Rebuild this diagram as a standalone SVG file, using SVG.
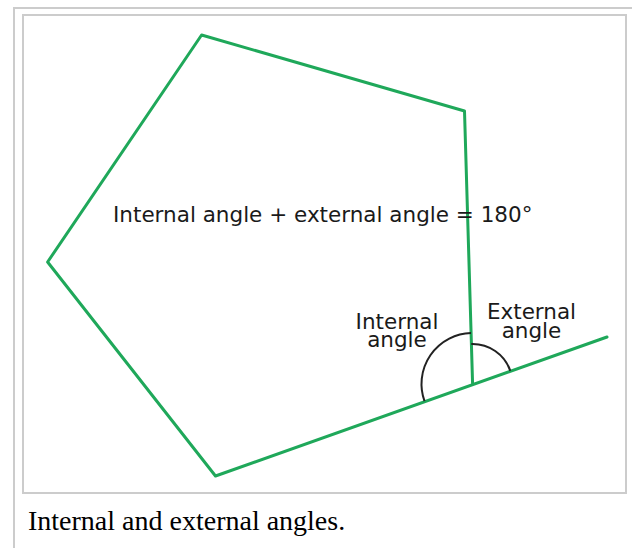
<svg xmlns="http://www.w3.org/2000/svg" width="632" height="548" viewBox="0 0 632 548">
<style>
.frame{fill:#ffffff;stroke:#cccccc;stroke-width:2}
.edge{fill:none;stroke:#1fa85a;stroke-width:3;stroke-linejoin:round;stroke-linecap:round}
.arc{fill:none;stroke:#222222;stroke-width:2}
.lbl{font-family:"DejaVu Sans",Verdana,sans-serif;font-size:21.5px;fill:#1a1a1a}
.cap{font-family:"Liberation Serif","Times New Roman",serif;font-size:28px;fill:#000000}
</style>
<rect width="632" height="548" fill="#ffffff"/>
<rect class="frame" x="14" y="8" width="640" height="560"/>
<rect class="frame" x="23" y="15" width="603" height="478"/>
<g id="pentagon">
<polyline class="edge" points="472.6,384 464.5,111 201.6,35 47.6,262 215.5,476 607,337"/>
</g>
<g id="angles">
<path class="arc" d="M471,333 A51,51 0 0 0 424.5,401.2"/>
<path class="arc" d="M471.3,344 A40,40 0 0 1 510.3,370.8"/>
</g>
<g id="labels">
<text class="lbl" x="113" y="222">Internal angle + external angle = 180°</text>
<text class="lbl" x="397" y="328.5" text-anchor="middle">Internal</text>
<text class="lbl" x="397" y="347" text-anchor="middle">angle</text>
<text class="lbl" x="531.5" y="319" text-anchor="middle">External</text>
<text class="lbl" x="531.5" y="338" text-anchor="middle">angle</text>
</g>
<text class="cap" x="28" y="530">Internal and external angles.</text>
</svg>
